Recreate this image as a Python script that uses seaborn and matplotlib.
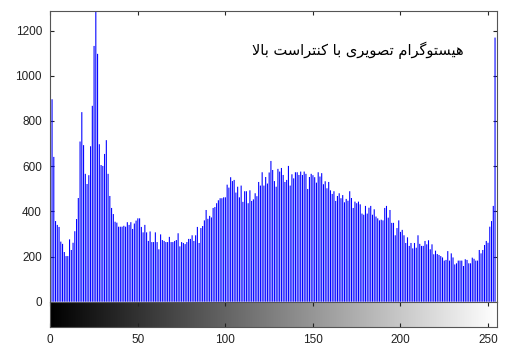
import numpy as np
import pandas as pd
import matplotlib
matplotlib.use("Agg")
import matplotlib.pyplot as plt
import seaborn as sns

# Pixel counts for each gray level 0..255
counts_0_42 = [1450, 896, 641, 357, 340, 331, 266, 256, 220, 202, 202, 276, 229, 261,
               312, 366, 459, 709, 839, 693, 566, 521, 560, 688, 867, 1132, 1400, 1097,
               697, 605, 601, 654, 715, 566, 468, 415, 388, 354, 350, 332, 332, 332, 336]
counts_43_85 = [332, 352, 340, 352, 322, 346, 359, 369, 369, 331, 307, 340, 307, 269,
                311, 264, 264, 307, 264, 232, 298, 273, 269, 264, 264, 287, 264, 264,
                269, 273, 303, 245, 264, 260, 255, 264, 278, 278, 294, 269, 294, 331, 260]
counts_86_127 = [326, 335, 360, 406, 367, 380, 373, 415, 419, 436, 449, 458, 458, 462,
                 462, 518, 505, 551, 534, 539, 483, 509, 462, 514, 442, 489, 489, 436,
                 493, 446, 453, 480, 467, 530, 514, 573, 514, 552, 523, 572, 623, 583]
counts_128_169 = [534, 509, 588, 576, 592, 561, 530, 539, 601, 514, 564, 546, 573, 573,
                  561, 576, 561, 576, 566, 499, 552, 566, 560, 551, 527, 573, 554, 569,
                  520, 533, 502, 530, 493, 477, 489, 446, 468, 480, 458, 472, 440, 455]
counts_170_213 = [447, 489, 459, 415, 443, 436, 443, 431, 390, 385, 424, 390, 416, 424,
                  385, 409, 377, 369, 360, 363, 360, 415, 424, 372, 406, 349, 349, 294,
                  326, 360, 309, 318, 294, 260, 285, 247, 260, 236, 260, 239, 294, 256,
                  247, 247]
counts_214_255 = [269, 254, 272, 232, 254, 210, 226, 211, 207, 202, 196, 182, 185, 224,
                  182, 214, 196, 165, 170, 182, 182, 182, 158, 188, 185, 170, 170, 195,
                  190, 182, 182, 229, 214, 229, 251, 269, 261, 332, 357, 424, 1169]

counts = (counts_0_42 + counts_43_85 + counts_86_127 + counts_128_169
          + counts_170_213 + counts_214_255)
levels = list(range(len(counts)))

y_ticks = [0, 200, 400, 600, 800, 1000, 1200]
x_ticks = [0, 50, 100, 150, 200, 250]

# "هیستوگرام تصویری با کنتراست بالا" written with Arabic presentation forms
# in display order, since the text renderer does no contextual shaping.
title_words = [
    "\uFEFB\uFE8E\uFE91",                                  # بالا
    "\uFE96\uFEB3\uFE8D\uFEAE\uFE98\uFEE8\uFB90",          # کنتراست
    "\uFE8E\uFE91",                                        # با
    "\uFBFC\uFEAE\uFBFE\uFEEE\uFEBC\uFE97",                # تصویری
    "\uFEE1\uFE8D\uFEAE\uFB94\uFEEE\uFE98\uFEB4\uFBFF\uFEEB",  # هیستوگرام
]
title_text = " ".join(title_words)

sns.set_style("ticks")
plt.rcParams["font.family"] = ["Liberation Sans", "DejaVu Sans"]

df = pd.DataFrame({"level": levels, "count": counts})

fig = plt.figure(figsize=(5.06, 3.47), dpi=100)
ax = fig.add_axes([0.0994, 0.1305, 0.8824, 0.8387])
cax = fig.add_axes([0.0994, 0.0585, 0.8824, 0.072], sharex=ax)

sns.histplot(data=df, x="level", weights="count", discrete=True, shrink=0.62,
             color="blue", alpha=1.0, linewidth=0, ax=ax)
for p in ax.patches:
    p.set_snap(False)
    p.set_facecolor("#0000ff")

ax.set_xlim(0, 255)
ax.set_ylim(0, 1288)
ax.set_yticks(y_ticks)
ax.set_xlabel("")
ax.set_ylabel("")
ax.tick_params(axis="y", direction="in", length=3, width=0.8, left=True, right=True,
               labelsize=8.5, colors="#222222", pad=6)
ax.tick_params(axis="x", direction="in", length=3, width=0.8, top=True, bottom=False,
               labelbottom=False)
for s in ax.spines.values():
    s.set_visible(True)
    s.set_color("#555555")
    s.set_linewidth(0.8)
ax.spines["bottom"].set_visible(False)

ax.text(236, 1114, title_text, ha="right", va="center", fontsize=10.5,
        family=["DejaVu Sans"], color="black")

# Gray-level ramp under the histogram
ramp = np.linspace(0, 1, 256).reshape(1, -1)
cax.imshow(ramp, cmap="gray", aspect="auto", extent=(-0.5, 255.5, 0, 1),
           interpolation="bilinear")
cax.set_ylim(0, 1)
cax.set_yticks([])
cax.set_xticks(x_ticks)
cax.tick_params(axis="x", direction="in", length=3, width=0.8, top=True, bottom=True,
                labelsize=8.5, colors="#222222", pad=5)
for s in cax.spines.values():
    s.set_color("#555555")
    s.set_linewidth(0.8)

fig.savefig("out.png", dpi=100, facecolor="white")
